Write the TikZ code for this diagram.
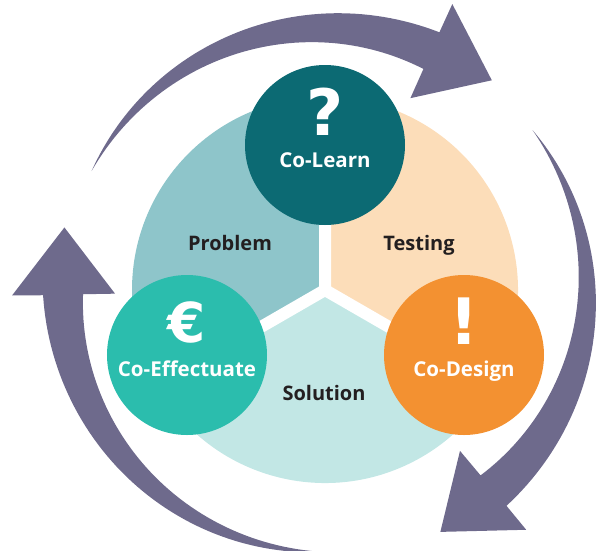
\documentclass[tikz,border=0pt]{standalone}
\usepackage{fontspec}
\setmainfont{Open Sans}
\newfontfamily\iconfont{DejaVu Sans}
\usetikzlibrary{calc}
\definecolor{arrowc}{HTML}{6E6A8C}
\definecolor{probc}{HTML}{8EC5CA}
\definecolor{testc}{HTML}{FCDDB9}
\definecolor{solc}{HTML}{C2E7E5}
\definecolor{learnc}{HTML}{0C6A73}
\definecolor{effc}{HTML}{2BBDAD}
\definecolor{desc}{HTML}{F39131}
\definecolor{textc}{HTML}{231F20}
\newcommand\cyclearrow[2]{%
  \fill[arrowc] plot[domain=0:1, samples=60] ({(#1)-((#1)-(#2))*\x}:{262+20*\x})
    -- ({#2}:313) -- ({(#2)-14.5}:268) -- ({#2}:210)
    -- plot[domain=0:1, samples=60] ({(#2)+((#1)-(#2))*\x}:{242+20*\x}) -- cycle;}
\begin{document}
\begin{tikzpicture}[x=1pt,y=1pt,
  bubble/.style={circle, minimum size=160pt, inner sep=0pt},
  icon/.style={text=white, anchor=center, inner sep=0pt},
  clabel/.style={text=white, font=\bfseries\fontsize{20.5}{24}\selectfont, anchor=base, inner sep=0pt},
  slabel/.style={text=textc, font=\bfseries\fontsize{20}{24}\selectfont, anchor=base, inner sep=0pt},
  divider/.style={white, line width=12pt, line cap=round}
]
\useasboundingbox (-325,-260) rectangle (271,290);
% cycle arrows
\cyclearrow{153}{66}
\cyclearrow{37.6}{-50}
\cyclearrow{270}{181}
% sectors
\fill[probc] (0,0) -- (90:193) arc[start angle=90, end angle=210, radius=193] -- cycle;
\fill[testc] (0,0) -- (-30:193) arc[start angle=-30, end angle=90, radius=193] -- cycle;
\fill[solc] (0,0) -- (210:193) arc[start angle=210, end angle=330, radius=193] -- cycle;
\draw[divider] (0,0) -- (90:200) (0,0) -- (210:200) (0,0) -- (330:200);
% sector labels
\node[slabel] (problem) at (-95,40) {Problem};
\node[slabel] (testing) at (94,40) {Testing};
\node[slabel] (solution) at (-1,-110) {Solution};
% bubbles
\node[bubble, fill=learnc] (learn) at (0,145) {};
\node[bubble, fill=effc] (effect) at (-138,-65) {};
\node[bubble, fill=desc] (design) at (139,-65) {};
\node[icon] (learnicon) at ($(learn.center)+(0,33)$) {\iconfont\fontsize{64}{64}\selectfont\bfseries ?};
\node[icon] (efficon) at ($(effect.center)+(0,33)$) {\iconfont\fontsize{55}{55}\selectfont\bfseries €};
\node[icon] (desicon) at ($(design.center)+(0,34)$) {\iconfont\fontsize{64}{64}\selectfont\bfseries !};
\node[clabel] (learnlabel) at ($(learn.center)+(0,-22)$) {Co-Learn};
\node[clabel] (efflabel) at ($(effect.center)+(0,-21)$) {Co-Effectuate};
\node[clabel] (deslabel) at ($(design.center)+(0,-21)$) {Co-Design};
\end{tikzpicture}
\end{document}
